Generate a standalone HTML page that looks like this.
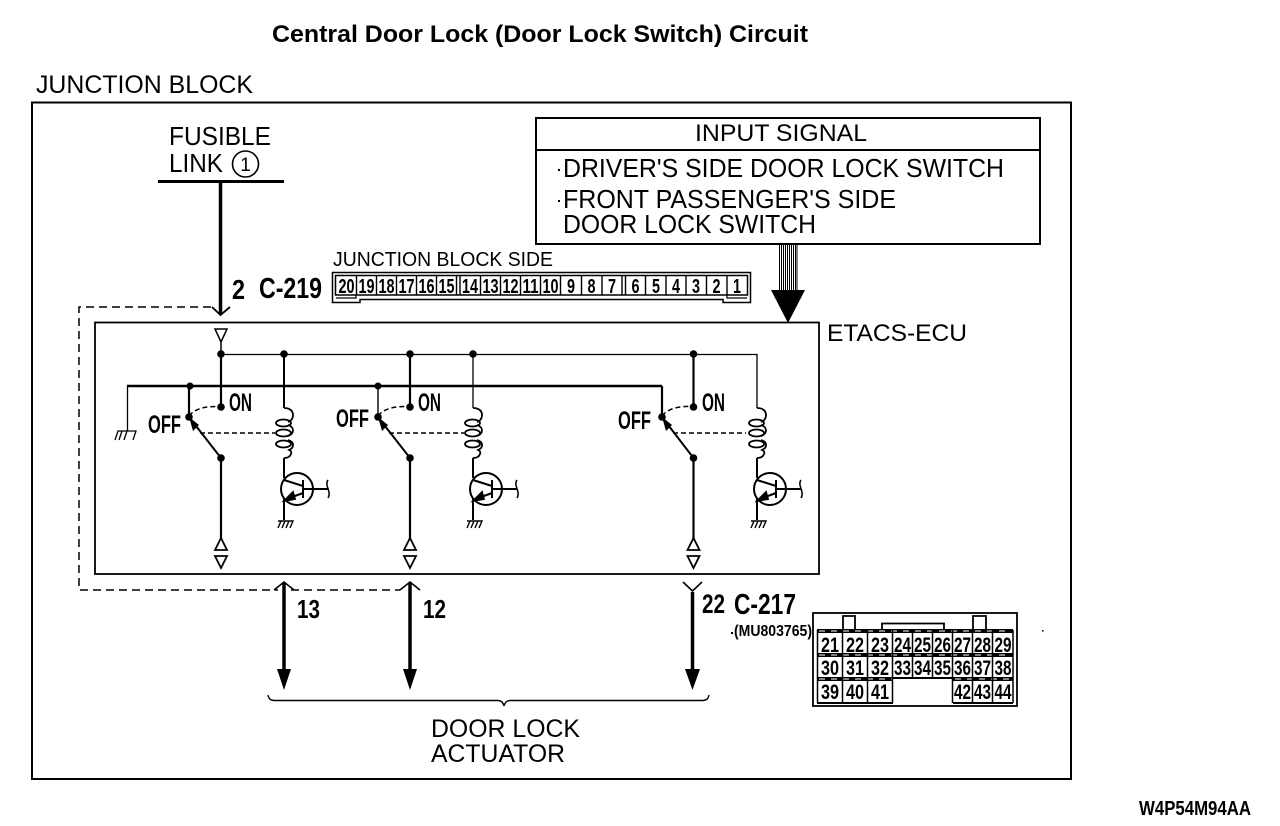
<!DOCTYPE html>
<html>
<head>
<meta charset="utf-8">
<style>
html,body{margin:0;padding:0;background:#fff}
svg{display:block}
text{font-family:"Liberation Sans",sans-serif;fill:#000}
.b{font-weight:bold}
.n{font-weight:bold;font-size:20px;text-anchor:middle}
.m{font-weight:bold;font-size:21px;text-anchor:middle}
</style>
</head>
<body>
<svg width="1280" height="826" viewBox="0 0 1280 826" xmlns="http://www.w3.org/2000/svg" fill="none" stroke="#000">
<defs>
  <g id="tri">
    <path d="M-6 0H6L0 13Z" stroke-width="1.500"/>
  </g>
  <g id="coil" stroke-width="1.800">
    <path d="M0 408C6 408 9 411 9 415C9 419 7 421 4 422M4 425C7 426 9 428 9 430C9 433 7 435 4 436M4 440C7 441 9 442 9 445C9 448 7 449 5 450C7 451 8 452 7 454C6 457 3 458 0 458"/>
    <ellipse cx="-0.500" cy="423" rx="7.500" ry="3.500"/>
    <ellipse cx="-0.500" cy="433" rx="7.500" ry="3.500"/>
    <ellipse cx="-0.500" cy="444" rx="7.500" ry="3.500"/>
  </g>
  <g id="trans" stroke-width="1.800">
    <path d="M0 0V20" stroke-width="2"/>
    <circle cx="13" cy="31" r="16" stroke-width="2"/>
    <path d="M0 22L19 28M19 22V40M19 31H44M19 35L0 42V62" stroke-width="2"/>
    <path d="M44 22C40 27 48 34 44 40" stroke-width="1.500"/>
    <path d="M0 43L9 34L11 41Z" fill="#000"/>
    <path d="M-6 70L-3 63H9L6 70M-2 70L1 63M2 70L5 63M-6 63H9" stroke-width="1.400"/>
  </g>
  <g id="out">
    <path d="M-6 12L0 0L6 12Z" stroke-width="1.800"/>
    <path d="M-6 18H6L0 30Z" stroke-width="1.800"/>
  </g>
</defs>

<text x="272" y="42" class="b" font-size="24" textLength="536" lengthAdjust="spacingAndGlyphs" stroke="none">Central Door Lock (Door Lock Switch) Circuit</text>
<text x="36" y="93" font-size="25" textLength="217" lengthAdjust="spacingAndGlyphs" stroke="none">JUNCTION BLOCK</text>

<rect x="32" y="102.500" width="1039" height="676.500" stroke-width="2"/>

<!-- fusible link -->
<text x="169" y="145" font-size="26" textLength="102" lengthAdjust="spacingAndGlyphs" stroke="none">FUSIBLE</text>
<text x="169" y="172" font-size="26" textLength="54" lengthAdjust="spacingAndGlyphs" stroke="none">LINK</text>
<circle cx="245.500" cy="164" r="13" stroke-width="1.600"/>
<text x="245.500" y="171" font-size="19" text-anchor="middle" stroke="none">1</text>
<path d="M158 181.500H284" stroke-width="3"/>
<path d="M220.500 181V314" stroke-width="3.500"/>
<path d="M212 307L220.500 315L230 307" stroke-width="1.800"/>
<text x="232" y="299" class="b" font-size="28" textLength="13" lengthAdjust="spacingAndGlyphs" stroke="none">2</text>
<text x="259" y="298" class="b" font-size="29" textLength="63" lengthAdjust="spacingAndGlyphs" stroke="none">C-219</text>

<!-- input signal box -->
<rect x="536" y="118" width="504" height="126" stroke-width="2"/>
<path d="M536 150H1040" stroke-width="2"/>
<text x="695" y="141" font-size="24" textLength="172" lengthAdjust="spacingAndGlyphs" stroke="none">INPUT SIGNAL</text>
<rect x="558" y="169" width="2" height="2" fill="#000" stroke="none"/>
<text x="563" y="177" font-size="25.500" textLength="441" lengthAdjust="spacingAndGlyphs" stroke="none">DRIVER'S SIDE DOOR LOCK SWITCH</text>
<rect x="558" y="200" width="2" height="2" fill="#000" stroke="none"/>
<text x="563" y="208" font-size="25.500" textLength="333" lengthAdjust="spacingAndGlyphs" stroke="none">FRONT PASSENGER'S SIDE</text>
<text x="563" y="233" font-size="25.500" textLength="253" lengthAdjust="spacingAndGlyphs" stroke="none">DOOR LOCK SWITCH</text>
<path d="M779.500 244V292M781.500 244V292M783.500 244V292M785.500 244V292M787.500 244V292M789.500 244V292M791.500 244V292M793.500 244V292M795.500 244V292M797 244V292" stroke-width="1"/>
<path d="M771 290H805L788 323Z" fill="#000" stroke="none"/>

<!-- junction block connector -->
<text x="333" y="266" font-size="20" textLength="220" lengthAdjust="spacingAndGlyphs" stroke="none">JUNCTION BLOCK SIDE</text>
<path d="M332.500 272.500H750.500V302.500H723V299.500H360V302.500H332.500Z" stroke-width="1.500"/>
<rect x="335.500" y="275.500" width="412" height="19.500" stroke-width="1.500"/>
<path d="M336 298H356V295M727 295V298H747" stroke-width="1.200"/>
<path d="M356.500 275V295M376.500 275V295M396.500 275V295M416.500 275V295M436.500 275V295M456.500 275V295M460 275V295M480.500 275V295M500.500 275V295M520.500 275V295M540.500 275V295M560.500 275V295M581.500 275V295M602 275V295M622 275V295M625.500 275V295M645.500 275V295M666 275V295M686 275V295M706.500 275V295M727 275V295" stroke-width="1.400"/>
<g stroke="none" lengthAdjust="spacingAndGlyphs">
<text class="n" x="346.500" y="293" textLength="16" lengthAdjust="spacingAndGlyphs">20</text><text class="n" x="366.500" y="293" textLength="16" lengthAdjust="spacingAndGlyphs">19</text><text class="n" x="386.500" y="293" textLength="16" lengthAdjust="spacingAndGlyphs">18</text><text class="n" x="406.500" y="293" textLength="16" lengthAdjust="spacingAndGlyphs">17</text><text class="n" x="426.500" y="293" textLength="16" lengthAdjust="spacingAndGlyphs">16</text><text class="n" x="446.500" y="293" textLength="16" lengthAdjust="spacingAndGlyphs">15</text><text class="n" x="470" y="293" textLength="16" lengthAdjust="spacingAndGlyphs">14</text><text class="n" x="490.500" y="293" textLength="16" lengthAdjust="spacingAndGlyphs">13</text><text class="n" x="510.500" y="293" textLength="16" lengthAdjust="spacingAndGlyphs">12</text><text class="n" x="530.500" y="293" textLength="16" lengthAdjust="spacingAndGlyphs">11</text><text class="n" x="550.500" y="293" textLength="16" lengthAdjust="spacingAndGlyphs">10</text><text class="n" x="571" y="293" textLength="8" lengthAdjust="spacingAndGlyphs">9</text><text class="n" x="591.500" y="293" textLength="8" lengthAdjust="spacingAndGlyphs">8</text><text class="n" x="612" y="293" textLength="8" lengthAdjust="spacingAndGlyphs">7</text><text class="n" x="635.500" y="293" textLength="8" lengthAdjust="spacingAndGlyphs">6</text><text class="n" x="656" y="293" textLength="8" lengthAdjust="spacingAndGlyphs">5</text><text class="n" x="676" y="293" textLength="8" lengthAdjust="spacingAndGlyphs">4</text><text class="n" x="696" y="293" textLength="8" lengthAdjust="spacingAndGlyphs">3</text><text class="n" x="716.500" y="293" textLength="8" lengthAdjust="spacingAndGlyphs">2</text><text class="n" x="737" y="293" textLength="8" lengthAdjust="spacingAndGlyphs">1</text>
</g>

<!-- ECU -->
<rect x="95" y="322.500" width="724" height="251.500" stroke-width="1.800"/>
<text x="827" y="341" font-size="24" textLength="140" lengthAdjust="spacingAndGlyphs" stroke="none">ETACS-ECU</text>
<path d="M211 307H79V590H278M291 590H400" stroke-width="1.500" stroke-dasharray="8 5"/>

<use href="#tri" x="221" y="329"/>
<path d="M221 342V354" stroke-width="1.500"/>
<path d="M221 354.500H757V408" stroke-width="1.300"/>
<path d="M127.500 386V431" stroke-width="1.300"/>
<path d="M127 386H662" stroke-width="2.500"/>
<path d="M115 440L118 431H136L133 440M119 440L122 431M124 440L127 431" stroke-width="1.300"/>

<!-- common vertical wiring -->
<g stroke-width="2.200">
<path d="M221 354V407M221 458V540"/>
<path d="M410 354V407M410 458V540"/>
<path d="M693.500 354V407M693.500 458V540"/>
<path d="M189 386V417M662 386V417"/>
</g>
<path d="M378 386V417" stroke-width="1.400"/>
<path d="M284 354V408" stroke-width="2"/>
<path d="M473 354V408" stroke-width="1.300"/>

<!-- switch arms -->
<g stroke-width="2">
<path d="M189 417L221 458"/><path d="M378 417L410 458"/><path d="M662 417L693.500 458"/>
</g>
<g fill="#000" stroke="none">
<path d="M189 417L199 425L193 431Z"/><path d="M378 417L388 425L382 431Z"/><path d="M662 417L672 425L666 431Z"/>
</g>
<g stroke-width="1.500" stroke-dasharray="5 3">
<path d="M189 416C195 408 207 406 221 406.500"/>
<path d="M378 416C384 408 396 406 410 406.500"/>
<path d="M662 416C668 408 680 406 693 406.500"/>
<path d="M200 433H275"/><path d="M389 433H464"/><path d="M673 433H746"/>
</g>

<!-- dots -->
<g fill="#000" stroke="none">
<circle cx="221" cy="354" r="3.800"/><circle cx="284" cy="354" r="3.800"/><circle cx="410" cy="354" r="3.800"/><circle cx="473" cy="354" r="3.800"/><circle cx="693.500" cy="354" r="3.800"/>
<circle cx="190" cy="386" r="3.500"/><circle cx="378" cy="386" r="3.500"/>
<circle cx="221" cy="407" r="3.800"/><circle cx="410" cy="407" r="3.800"/><circle cx="693.500" cy="407" r="3.800"/>
<circle cx="189" cy="417" r="3.800"/><circle cx="378" cy="417" r="3.800"/><circle cx="662" cy="417" r="3.800"/>
<circle cx="221" cy="458" r="3.800"/><circle cx="410" cy="458" r="3.800"/><circle cx="693.500" cy="458" r="3.800"/>
</g>

<!-- coils and transistors -->
<use href="#coil" x="284" y="0"/><use href="#trans" x="284" y="458"/>
<use href="#coil" x="473" y="0"/><use href="#trans" x="473" y="458"/>
<use href="#coil" x="757" y="0"/><use href="#trans" x="757" y="458"/>

<use href="#out" x="221" y="538"/><use href="#out" x="410" y="538"/><use href="#out" x="693.500" y="538"/>

<g font-size="25" stroke="none" font-weight="bold">
<text x="229" y="411" textLength="23" lengthAdjust="spacingAndGlyphs">ON</text>
<text x="148" y="433" textLength="33" lengthAdjust="spacingAndGlyphs">OFF</text>
<text x="418" y="411" textLength="23" lengthAdjust="spacingAndGlyphs">ON</text>
<text x="336" y="427" textLength="33" lengthAdjust="spacingAndGlyphs">OFF</text>
<text x="702" y="411" textLength="23" lengthAdjust="spacingAndGlyphs">ON</text>
<text x="618" y="429" textLength="33" lengthAdjust="spacingAndGlyphs">OFF</text>
</g>

<!-- output arrows -->
<g stroke-width="3.500"><path d="M284 583V672"/><path d="M410 583V672"/><path d="M692.500 592V672"/></g>
<g stroke-width="1.600"><path d="M274 590L284 582L294 590"/><path d="M400 590L410 582L420 590"/><path d="M683 582L692.500 591L702 582"/></g>
<g fill="#000" stroke="none"><path d="M277 669H291L284 690Z"/><path d="M403 669H417L410 690Z"/><path d="M685 669H700L692.500 690Z"/></g>
<g font-size="26" font-weight="bold" stroke="none">
<text x="297" y="618" textLength="23" lengthAdjust="spacingAndGlyphs">13</text>
<text x="423" y="618" textLength="23" lengthAdjust="spacingAndGlyphs">12</text>
<text x="702" y="613" font-size="27" textLength="23" lengthAdjust="spacingAndGlyphs">22</text>
<text x="734" y="614" font-size="29" textLength="62" lengthAdjust="spacingAndGlyphs">C-217</text>
</g>
<rect x="731" y="632" width="2" height="2" fill="#000" stroke="none"/>
<text x="734" y="636" class="b" font-size="16" textLength="78" lengthAdjust="spacingAndGlyphs" stroke="none">(MU803765)</text>
<path d="M268 695C269 699 270 700 274 700.500H498C501 700.500 503 702 504 706C505 702 507 700.500 510 700.500H703C707 700 708 699 709 695" stroke-width="1.400"/>
<text x="431" y="737" font-size="25" textLength="149" lengthAdjust="spacingAndGlyphs" stroke="none">DOOR LOCK</text>
<text x="431" y="762" font-size="25" textLength="134" lengthAdjust="spacingAndGlyphs" stroke="none">ACTUATOR</text>

<!-- C-217 connector -->
<rect x="813" y="613" width="204" height="93" stroke-width="1.800"/>
<path d="M843 630V616H855V630M973 630V616H986V630M882 630V623.500H944V630" stroke-width="1.800"/>
<path d="M817 631H1013" stroke-width="4"/>
<path d="M817 655H1013" stroke-width="4"/>
<path d="M817 679H893M953 679H1013" stroke-width="4"/>
<path d="M893 678H953" stroke-width="2"/>
<path d="M817 703H893M953 703H1013" stroke-width="2"/>
<path d="M819 631H1011M819 655H1011M819 679H892M955 679H1011" stroke="#fff" stroke-width="1" stroke-dasharray="6 6"/>
<path d="M817.500 630V703M842.500 630V703M867.500 630V703M892.500 630V703M912.500 630V678M932.500 630V678M952.500 630V703M972.500 630V703M992.500 630V703M1013 630V703" stroke-width="1.500"/>
<g stroke="none">
<text class="m" x="830" y="652" textLength="18" lengthAdjust="spacingAndGlyphs">21</text><text class="m" x="855" y="652" textLength="18" lengthAdjust="spacingAndGlyphs">22</text><text class="m" x="880" y="652" textLength="18" lengthAdjust="spacingAndGlyphs">23</text><text class="m" x="902.500" y="652" textLength="17" lengthAdjust="spacingAndGlyphs">24</text><text class="m" x="922.500" y="652" textLength="17" lengthAdjust="spacingAndGlyphs">25</text><text class="m" x="942.500" y="652" textLength="17" lengthAdjust="spacingAndGlyphs">26</text><text class="m" x="962.500" y="652" textLength="17" lengthAdjust="spacingAndGlyphs">27</text><text class="m" x="982.500" y="652" textLength="17" lengthAdjust="spacingAndGlyphs">28</text><text class="m" x="1003" y="652" textLength="17" lengthAdjust="spacingAndGlyphs">29</text>
<text class="m" x="830" y="675" textLength="18" lengthAdjust="spacingAndGlyphs">30</text><text class="m" x="855" y="675" textLength="18" lengthAdjust="spacingAndGlyphs">31</text><text class="m" x="880" y="675" textLength="18" lengthAdjust="spacingAndGlyphs">32</text><text class="m" x="902.500" y="675" textLength="17" lengthAdjust="spacingAndGlyphs">33</text><text class="m" x="922.500" y="675" textLength="17" lengthAdjust="spacingAndGlyphs">34</text><text class="m" x="942.500" y="675" textLength="17" lengthAdjust="spacingAndGlyphs">35</text><text class="m" x="962.500" y="675" textLength="17" lengthAdjust="spacingAndGlyphs">36</text><text class="m" x="982.500" y="675" textLength="17" lengthAdjust="spacingAndGlyphs">37</text><text class="m" x="1003" y="675" textLength="17" lengthAdjust="spacingAndGlyphs">38</text>
<text class="m" x="830" y="699" textLength="18" lengthAdjust="spacingAndGlyphs">39</text><text class="m" x="855" y="699" textLength="18" lengthAdjust="spacingAndGlyphs">40</text><text class="m" x="880" y="699" textLength="18" lengthAdjust="spacingAndGlyphs">41</text><text class="m" x="962.500" y="699" textLength="17" lengthAdjust="spacingAndGlyphs">42</text><text class="m" x="982.500" y="699" textLength="17" lengthAdjust="spacingAndGlyphs">43</text><text class="m" x="1003" y="699" textLength="17" lengthAdjust="spacingAndGlyphs">44</text>
</g>
<rect x="1042" y="630" width="1.500" height="1.500" fill="#000" stroke="none"/>

<text x="1139" y="815" class="b" font-size="20" textLength="112" lengthAdjust="spacingAndGlyphs" stroke="none">W4P54M94AA</text>
</svg>
</body>
</html>
